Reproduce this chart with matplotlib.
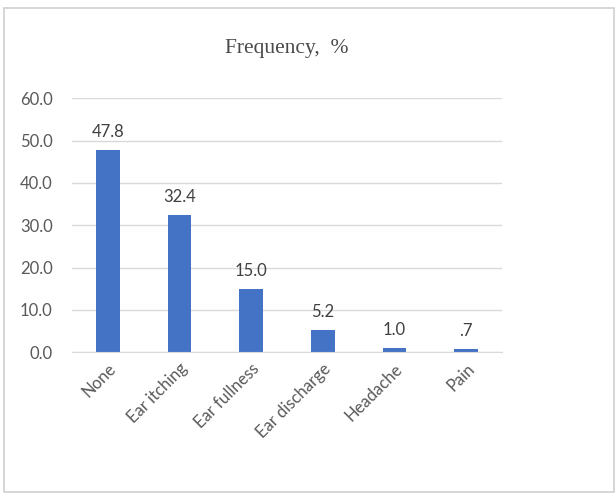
import matplotlib.pyplot as plt
from matplotlib.patches import Rectangle

categories = ["None", "Ear itching", "Ear fullness", "Ear discharge", "Headache", "Pain"]
frequency = [47.8, 32.4, 15.0, 5.2, 1.0, 0.7]
value_labels = ["47.8", "32.4", "15.0", "5.2", "1.0", ".7"]
y_ticks = [0, 10, 20, 30, 40, 50, 60]

BAR_BLUE = "#4472c4"
GRID_GRAY = "#d9d9d9"
TEXT_GRAY = "#595959"

fig = plt.figure(figsize=(6.16, 4.96), dpi=100)
fig.patch.set_facecolor("white")

# light frame round the whole chart area
fig.add_artist(Rectangle((4 / 616, 4 / 496), 610 / 616, 484 / 496, transform=fig.transFigure,
                         fill=False, edgecolor="#d0d0d0", linewidth=1.2))

ax = fig.add_axes([0.117, 0.290, 0.698, 0.512])
x = range(len(categories))
bars = ax.bar(x, frequency, width=0.33, color=BAR_BLUE, zorder=3)

for bar, lab in zip(bars, value_labels):
    ax.annotate(lab, (bar.get_x() + bar.get_width() / 2, bar.get_height()),
                xytext=(0, 7), textcoords="offset points", ha="center", va="bottom",
                fontsize=12, color="#404040", family="Lato")

ax.set_xlim(-0.5, len(categories) - 0.5)
ax.set_ylim(0, 60)
ax.set_yticks(y_ticks)
ax.set_yticklabels([f"{t:.1f}" for t in y_ticks], fontsize=12, color=TEXT_GRAY, family="Lato")
ax.set_xticks(list(x))
ax.set_xticklabels(categories, rotation=45, ha="right", rotation_mode="anchor",
                   fontsize=12, color=TEXT_GRAY, family="Lato")
ax.tick_params(axis="both", length=0)
ax.tick_params(axis="y", pad=14)
ax.tick_params(axis="x", pad=6)

ax.grid(axis="y", color=GRID_GRAY, linewidth=1, zorder=0)
for side in ["top", "right", "left"]:
    ax.spines[side].set_visible(False)
ax.spines["bottom"].set_color(GRID_GRAY)
ax.spines["bottom"].set_zorder(4)

fig.text(0.465, 0.903, "Frequency,  %", ha="center", va="center", fontsize=15.5,
         color="#4a4a4a", family="Liberation Serif")

fig.savefig("out.png", dpi=100)
